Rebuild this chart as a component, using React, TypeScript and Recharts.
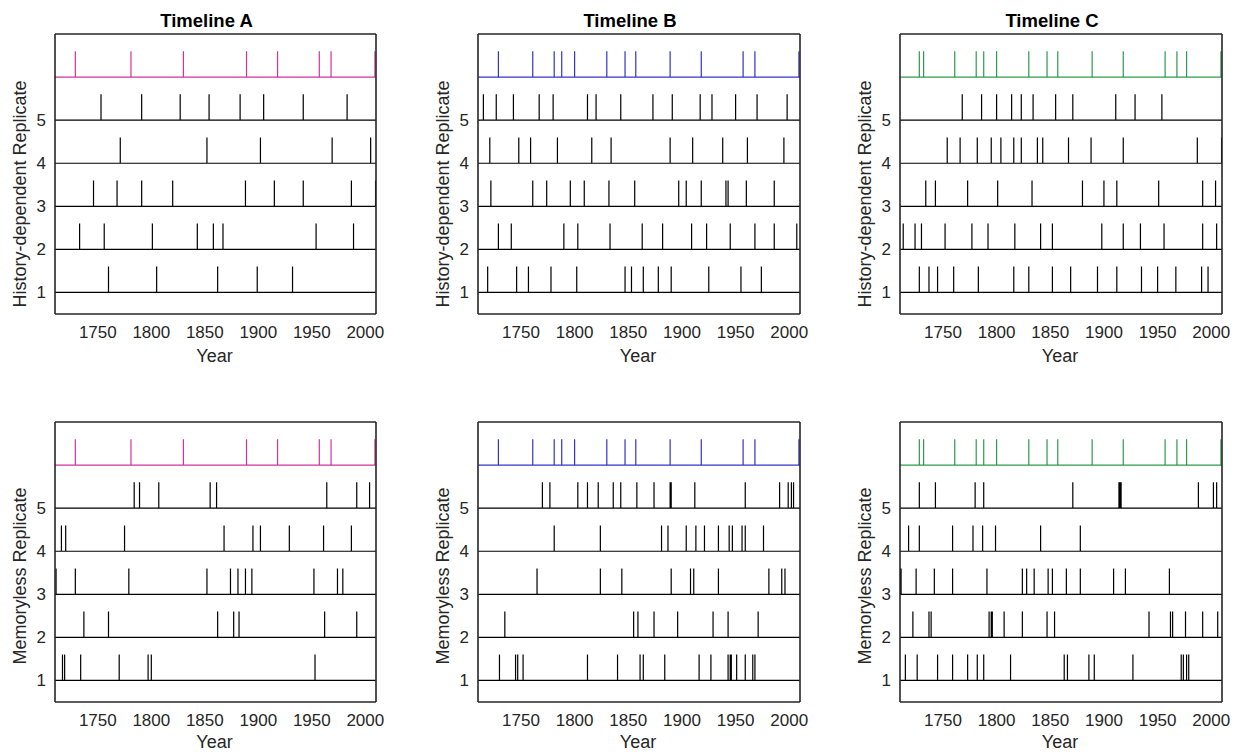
import React from "react";
import { LineChart, Line, XAxis, YAxis } from "recharts";

const YEAR_MIN = 1710;
const YEAR_MAX = 2010;
const yearTicks = [1750, 1800, 1850, 1900, 1950, 2000];
const replicateTicks = [1, 2, 3, 4, 5];
const timelineTitles = ["Timeline A", "Timeline B", "Timeline C"];
const rowLabels = ["History-dependent Replicate", "Memoryless Replicate"];

// observed timelines (top row of every panel)
const observedA = [1729, 1781, 1830, 1889, 1918, 1957, 1968, 2009];
const observedB = [1729, 1761, 1781, 1788, 1800, 1830, 1847, 1857, 1889, 1918, 1957, 1968, 2009];
const observedC = [1728, 1732, 1761, 1781, 1788, 1800, 1830, 1847, 1857, 1889, 1918, 1957, 1968, 1977, 2009];

// history-dependent replicates 1..5
const historyA = [
  [1760, 1805, 1862, 1899, 1932],
  [1733, 1756, 1801, 1843, 1858, 1867, 1954, 1989],
  [1746, 1768, 1791, 1820, 1888, 1915, 1942, 1987, 2009.6],
  [1771, 1852, 1902, 1969, 2005],
  [1753, 1791, 1827, 1854, 1883, 1905, 1942, 1983],
];
const historyB = [
  [1719, 1746, 1757, 1778, 1802, 1847, 1853, 1864, 1878, 1890, 1925, 1955, 1974],
  [1729, 1741, 1790, 1803, 1833, 1863, 1882, 1909, 1923, 1945, 1968, 1986, 2007],
  [1722, 1761, 1774, 1796, 1809, 1832, 1856, 1897, 1904, 1918, 1941, 1943, 1960, 1986],
  [1721, 1748, 1759, 1784, 1816, 1834, 1889, 1910, 1938, 1961, 1995],
  [1715, 1727, 1743, 1767, 1780, 1812, 1820, 1843, 1873, 1891, 1917, 1928, 1950, 1970, 1998],
];
const historyC = [
  [1728, 1737, 1745, 1760, 1783, 1816, 1830, 1852, 1869, 1894, 1912, 1935, 1950, 1967, 1991, 1997],
  [1713, 1724, 1730, 1752, 1777, 1792, 1817, 1841, 1852, 1898, 1918, 1934, 1956, 1992, 2005],
  [1734, 1743, 1773, 1801, 1833, 1880, 1900, 1912, 1951, 1992, 2004],
  [1754, 1766, 1782, 1795, 1804, 1816, 1823, 1838, 1843, 1867, 1888, 1918, 1987, 2009.6],
  [1768, 1786, 1800, 1814, 1823, 1834, 1855, 1871, 1911, 1929, 1954],
];

// memoryless replicates 1..5
const memorylessA = [
  [1717, 1719, 1734, 1770, 1797, 1800, 1953],
  [1737, 1760, 1862, 1877, 1882, 1962, 1992],
  [1711, 1729, 1779, 1852, 1874, 1881, 1888, 1894, 1952, 1974, 1979],
  [1716, 1720, 1775, 1868, 1895, 1902, 1929, 1961, 1987],
  [1784, 1789, 1807, 1855, 1861, 1964, 1992, 2004],
];
const memorylessB = [
  [1730, 1745, 1747, 1752, 1812, 1840, 1861, 1864, 1884, 1916, 1927, 1943, 1945, 1946, 1951, 1959, 1966, 1968],
  [1735, 1855, 1859, 1874, 1896, 1929, 1943, 1971],
  [1765, 1824, 1844, 1890, 1908, 1911, 1934, 1981, 1993, 1996],
  [1781, 1824, 1881, 1887, 1904, 1913, 1921, 1934, 1944, 1947, 1956, 1959, 1976],
  [1770, 1777, 1803, 1812, 1822, 1836, 1843, 1858, 1874, 1889, 1890, 1912, 1959, 1991, 1999, 2002, 2004],
];
const memorylessC = [
  [1715, 1726, 1745, 1759, 1773, 1782, 1788, 1813, 1863, 1866, 1886, 1891, 1927, 1972, 1974, 1977, 1979],
  [1722, 1737, 1739, 1793, 1795, 1796, 1807, 1824, 1847, 1854, 1942, 1962, 1964, 1976, 1992, 2006],
  [1710.3, 1711, 1725, 1742, 1759, 1791, 1824, 1828, 1835, 1848, 1852, 1865, 1878, 1909, 1920, 1961],
  [1718, 1728, 1759, 1778, 1787, 1799, 1841, 1878],
  [1728, 1743, 1780, 1788, 1871, 1914, 1915, 1916, 1988, 2002, 2005],
];

const observedColors = ["#d1339b", "#3434c8", "#2e9a4e"];

const FRAME = "#262626";
const FONT = "'Liberation Sans', Arial, Helvetica, sans-serif";
const SPIKE = 0.6;

const plotLefts = [55, 478, 900];
const plotWidths = [321, 322, 322];
const plotTops = [34, 422];
const PLOT_H = 280;
const labelCenters = [194, 576];
const yearOffsets = [48, 46];

function spikeTrain(events: number[], level: number) {
  const pts = [{ year: YEAR_MIN, v: level }];
  [...events]
    .sort((a, b) => a - b)
    .forEach((e) => {
      pts.push({ year: e, v: level }, { year: e, v: level + SPIKE }, { year: e, v: level });
    });
  pts.push({ year: YEAR_MAX, v: level });
  return pts;
}

interface PanelProps {
  plotLeft: number;
  plotTop: number;
  plotWidth: number;
  observed: number[];
  color: string;
  replicates: number[][];
}

function Panel({ plotLeft, plotTop, plotWidth, observed, color, replicates }: PanelProps) {
  const frameLine = { stroke: FRAME, strokeWidth: 1.6 };
  return (
    <div style={{ position: "absolute", left: plotLeft - 55, top: plotTop - 34 }}>
      <LineChart
        width={55 + plotWidth + 34}
        height={370}
        margin={{ top: 34, right: 34, bottom: 1, left: 15 }}
      >
        <XAxis
          xAxisId="x"
          type="number"
          dataKey="year"
          domain={[YEAR_MIN, YEAR_MAX]}
          allowDataOverflow
          ticks={yearTicks}
          interval={0}
          height={55}
          tickLine={false}
          tickSize={6}
          tickMargin={6}
          axisLine={frameLine}
          tick={{ fill: FRAME, fontSize: 17 }}
        />
        <XAxis
          xAxisId="xt"
          orientation="top"
          mirror
          type="number"
          dataKey="year"
          domain={[YEAR_MIN, YEAR_MAX]}
          allowDataOverflow
          ticks={yearTicks}
          interval={0}
          tick={false}
          tickSize={4}
          tickLine={{ stroke: FRAME }}
          axisLine={frameLine}
        />
        <XAxis
          xAxisId="xb"
          orientation="bottom"
          mirror
          type="number"
          dataKey="year"
          domain={[YEAR_MIN, YEAR_MAX]}
          allowDataOverflow
          ticks={yearTicks}
          interval={0}
          tick={false}
          tickSize={4}
          tickLine={{ stroke: FRAME }}
          axisLine={false}
        />
        <YAxis
          yAxisId="y"
          type="number"
          dataKey="v"
          domain={[0.5, 7]}
          allowDataOverflow
          ticks={replicateTicks}
          interval={0}
          width={40}
          tickLine={false}
          tickSize={6}
          tickMargin={3}
          axisLine={frameLine}
          tick={{ fill: FRAME, fontSize: 17 }}
        />
        <YAxis
          yAxisId="yl"
          mirror
          type="number"
          domain={[0.5, 7]}
          allowDataOverflow
          ticks={replicateTicks}
          interval={0}
          tick={false}
          tickSize={4}
          tickLine={{ stroke: FRAME }}
          axisLine={false}
        />
        <YAxis
          yAxisId="yr"
          orientation="right"
          mirror
          type="number"
          domain={[0.5, 7]}
          allowDataOverflow
          ticks={replicateTicks}
          interval={0}
          tick={false}
          tickSize={4}
          tickLine={{ stroke: FRAME }}
          axisLine={frameLine}
        />
        {replicates.map((events, i) => (
          <Line
            key={`rep-${i}`}
            xAxisId="x"
            yAxisId="y"
            data={spikeTrain(events, i + 1)}
            dataKey="v"
            stroke="#000000"
            strokeWidth={1.2}
            dot={false}
            activeDot={false}
            isAnimationActive={false}
          />
        ))}
        <Line
          xAxisId="x"
          yAxisId="y"
          data={spikeTrain(observed, 6)}
          dataKey="v"
          stroke={color}
          strokeWidth={1.2}
          dot={false}
          activeDot={false}
          isAnimationActive={false}
        />
      </LineChart>
    </div>
  );
}

export default function App() {
  const observed = [observedA, observedB, observedC];
  const rows = [
    [historyA, historyB, historyC],
    [memorylessA, memorylessB, memorylessC],
  ];

  return (
    <div
      style={{
        position: "absolute",
        left: 0,
        top: 0,
        width: 1240,
        height: 752,
        background: "#ffffff",
        overflow: "hidden",
        fontFamily: FONT,
      }}
    >
      {rows.map((row, r) =>
        row.map((reps, c) => (
          <Panel
            key={`${r}-${c}`}
            plotLeft={plotLefts[c]}
            plotTop={plotTops[r]}
            plotWidth={plotWidths[c]}
            observed={observed[c]}
            color={observedColors[c]}
            replicates={reps}
          />
        ))
      )}
      <svg
        width={1240}
        height={752}
        style={{ position: "absolute", left: 0, top: 0, pointerEvents: "none" }}
        fontFamily={FONT}
      >
        {timelineTitles.map((t, c) => (
          <text
            key={t}
            x={plotLefts[c] + plotWidths[c] / 2 - 9}
            y={27}
            textAnchor="middle"
            fontSize={18.5}
            fontWeight="bold"
            fill="#000"
          >
            {t}
          </text>
        ))}
        {plotTops.map((top, r) =>
          plotLefts.map((left, c) => (
            <React.Fragment key={`lab-${r}-${c}`}>
              <text
                x={left + plotWidths[c] / 2 - 1}
                y={top + PLOT_H + yearOffsets[r]}
                textAnchor="middle"
                fontSize={18}
                fill={FRAME}
              >
                Year
              </text>
              <text
                x={left - 29}
                y={labelCenters[r]}
                textAnchor="middle"
                fontSize={18}
                fill={FRAME}
                transform={`rotate(-90, ${left - 29}, ${labelCenters[r]})`}
              >
                {rowLabels[r]}
              </text>
            </React.Fragment>
          ))
        )}
      </svg>
    </div>
  );
}
